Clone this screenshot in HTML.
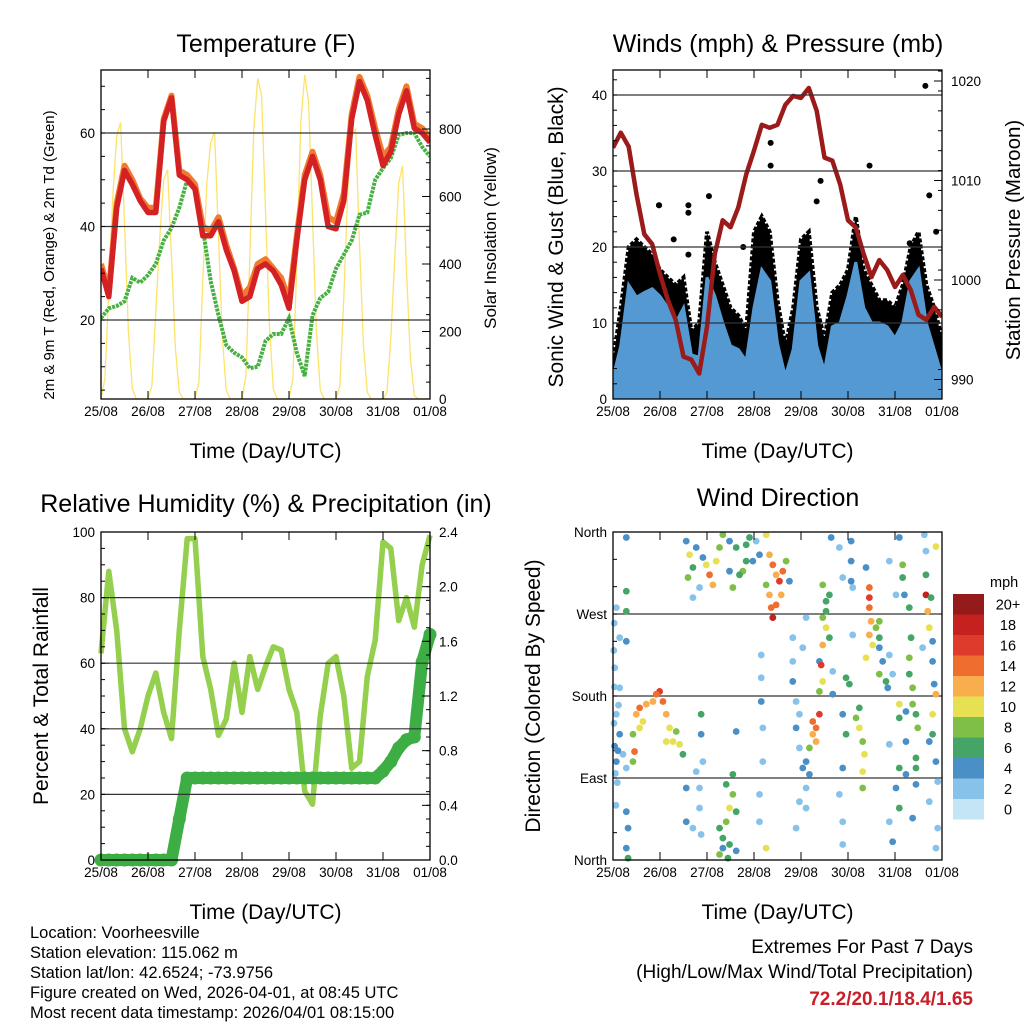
<!DOCTYPE html>
<html><head><meta charset="utf-8"><style>
body{margin:0;background:#fff;}
svg{display:block;font-family:"Liberation Sans",sans-serif;}
</style></head><body>
<svg id="root" width="1024" height="1024" viewBox="0 0 1024 1024" xmlns="http://www.w3.org/2000/svg">
<rect width="1024" height="1024" fill="#fff"/>
<g id="g"></g>
<g font-size="16.5" fill="#000">
<text x="30" y="938">Location: Voorheesville</text>
<text x="30" y="958">Station elevation: 115.062 m</text>
<text x="30" y="978">Station lat/lon: 42.6524; -73.9756</text>
<text x="30" y="998">Figure created on Wed, 2026-04-01, at 08:45 UTC</text>
<text x="30" y="1018">Most recent data timestamp: 2026/04/01 08:15:00</text>
</g>
<g text-anchor="end">
<text x="973" y="953" font-size="19">Extremes For Past 7 Days</text>
<text x="973" y="978" font-size="19">(High/Low/Max Wind/Total Precipitation)</text>
<text x="973" y="1005" font-size="19" font-weight="bold" fill="#c8202a">72.2/20.1/18.4/1.65</text>
</g>
</svg>
<script>
// ---------- data (4-hour steps from 25/08 00UTC) ----------
const dayLabels=["25/08","26/08","27/08","28/08","29/08","30/08","31/08","01/08"];
const tempRed=[31,25,44,52,49,45.5,43,43,62.5,67.5,51,50,48,38,38,41,35,30.5,24,25,31,32,30.5,27.5,22.5,37,50,55,50,40,39.5,45.5,63,71,67,59.5,53,56,64,69,61,60,58];
const tempOrange=[32,26,45,53,50,46,44,44,63,68,52,51,49,40,39,42,36,31,25,27,32,33,31,29,24,38,51,56,51,42,41,47,64,72,68,61,55,57,65,70,62,61,59];
const dewGreen=[20.4,22.5,23,24,29,28,29.6,32,37,39.7,44,50,48,39.7,28.3,21,14.6,13,12,9.7,10,15.5,17,17,20.4,13,8,21,24.7,26,31,34,37,42.5,43,50,52.5,54.6,59.6,60,60,57,55];
// solar insolation, 2-hour steps
const solar=[0,60,320,600,780,820,520,200,30,0,0,0,
 0,40,260,480,650,680,420,150,20,0,0,0,
 0,50,350,640,760,790,480,180,25,0,0,0,
 0,70,420,800,950,900,560,220,30,0,0,0,
 0,60,400,820,960,880,540,200,25,0,0,0,
 0,40,300,620,780,800,460,160,20,0,0,0,
 0,20,180,420,640,690,380,120,10,0,0,0,0];
const windSust=[2.8,7,15,13.4,14,14.5,13.5,12,10,12,5.8,5.5,16,13.5,10,7,6.5,5,12,17,15.5,7.3,3,6.5,15.5,16.5,7,3.7,9.5,10,13.5,18,12,10,10,9.5,8,10,15.5,17,10,6.5,3];
const windGust=[5,12,20,21,20,19,17,16,15,16,9,10,22,18,15,12,11,9,22,24,22,13,7,12,21,22,12,8,14,15,17,24,17,15,13,13,12,15,20,22,15,12,8];
const gustHours=[23.5,38.5,49,80.5,80.5,106,104,131,159.5,161.5,23.5,38.5,31,66.5,38.5,165,151.5];
const gustVals=[25.5,25.5,26.7,33.7,30.7,28.7,26,30.7,41.2,26.8,25.5,24.5,21,20,19,22,20.5];
const pressure=[1013.3,1014.8,1013.4,1008.6,1004.6,1003.6,1000.6,998,996,992.3,992,990.6,995.3,1002.6,1006,1005.3,1007.3,1010.6,1013,1015.6,1015.3,1015.6,1017.6,1018.5,1018.3,1019.3,1017,1012.3,1012,1009.6,1006,1005.3,1002.6,1000.3,1002,1001,999.3,1000.5,999,996.5,996,997.3,996.3];
const rh=[63,88,70,40,33,40,50,57,45,37,70,98,98,62,52,38,43,60,45,62,52,59,65,64,52,45,21,17,44,60,62,50,28,30,56,67,97,95,73,80,71,90,99];
const precip=[0,0,0,0,0,0,0,0,0,0,0.3,0.6,0.6,0.6,0.6,0.6,0.6,0.6,0.6,0.6,0.6,0.6,0.6,0.6,0.6,0.6,0.6,0.6,0.6,0.6,0.6,0.6,0.6,0.6,0.6,0.6,0.65,0.72,0.82,0.88,0.9,1.45,1.65];
// wind direction observations: [hour, degrees, speed mph]
const dirObs=[[1.7,160,2],[3.4,138,4],[5.1,116,2],[1.7,108,4],[6.8,101,2],[3.4,189,2],[0.9,211,2],[3.4,244,2],[6.8,240,4],[1.7,277,2],
[0.5,150,2],[0.8,125,4],[1.2,95,2],[0.4,230,2],[0.6,260,2],[2.5,120,4],[2.2,85,2],[0.7,190,2],[1.5,60,2],[2.8,170,2],
[10.2,138,8],[11.9,160,12],[13.6,167,14],[15.3,152,10],[17,171,12],[20.4,174,12],[23.8,185,16],[25.5,174,14],[27.2,160,12],[28.9,145,10],[30.6,130,10],[32.3,141,8],[34,127,10],[35.7,116,6],[11,119,14],[10.2,108,8],[22.1,182,14],[27.2,130,10],[13.6,145,10],
[6.8,53,4],[7.7,35,4],[6.8,13,4],[7.7,2,6],[6.8,354,4],[6.8,295,6],[6.8,273,6],
[37.4,350,4],[39.1,335,10],[38.3,310,8],[40.8,321,6],[42.5,343,4],[44.2,299,2],[47.6,324,10],[49.3,313,14],[51,302,12],[52.7,328,10],[54.4,343,8],[56.1,357,8],[45.9,332,4],[40.8,288,2],
[59.5,350,4],[62.9,343,6],[68,346,6],[69.7,354,6],[66.3,317,8],[71.4,328,4],[74.8,335,4],[64.6,313,6],[61.2,299,8],[73.1,350,2],[68,328,6],[59.5,317,4],
[78.2,357,10],[79.9,335,12],[81.6,324,14],[83.3,313,12],[85,306,16],[86.7,317,14],[79.9,291,12],[83.3,280,14],[81.6,266,18],[78.2,302,8],[88.4,328,8],[90.1,306,4],[85.9,291,12],[80.8,277,14],
[54.4,6,8],[56.1,24,6],[57.8,42,8],[59.5,57,10],[61.2,72,8],[62.9,53,6],[56.1,13,4],[59.5,17,6],[57.8,83,6],[61.2,94,6],[54.4,35,6],[58.7,2,6],[62.9,10,4],
[42.5,97,2],[44.2,79,2],[44.2,57,2],[40.8,35,2],[45,160,6],[45,138,4],[45.9,108,2],[45,28,2],[37.4,79,4],[37.4,42,4],
[75.7,225,2],[75.7,200,2],[75.7,174,4],[76.5,108,2],[74.8,72,2],[74.8,42,2],[78.2,13,10],[76.5,145,2],[62.9,141,4],
[91.8,244,2],[91.8,218,2],[91.8,196,4],[93.5,174,2],[93.5,145,4],[95.2,123,2],[96.9,101,4],[98.6,79,2],[98.6,57,2],[98.6,108,4],[95.2,160,2],[96.9,233,2],[93.5,35,2],[98.6,266,2],[100.3,94,4],[95.2,64,2],
[102,152,14],[103.7,145,14],[105.4,160,16],[102,138,12],[103.7,130,12],[100.3,123,8],
[107.1,302,8],[108.8,284,6],[107.1,266,8],[108.8,255,10],[107.1,236,12],[110.5,244,6],[105.4,218,4],[106.3,214,16],[107.1,196,10],[105.4,185,8],[108.8,273,6],[110.5,291,6],
[111.4,354,4],[115.6,343,2],[117.3,310,2],[121.6,350,4],[121.6,328,4],[121.6,306,4],[122.4,299,2],[112.2,207,2],[119,200,6],[120.7,193,6],[117.3,160,4],[119,138,6],[117.3,101,4],[115.6,72,2],[117.3,42,2],[117.3,17,2],[112.2,182,4],[122.4,247,2],
[124.1,156,8],[125.8,145,10],[127.5,130,8],[128.4,116,10],[127.5,97,10],[127.5,79,8],[125.8,167,6],
[130.9,299,14],[130.9,288,16],[130.9,277,14],[131.8,262,12],[130.9,247,12],[132.6,236,10],[129.2,222,10],[134.3,255,8],[136,262,8],[136,233,4],[137.7,218,4],[136,204,8],[139.4,196,6],[140.3,189,4],[141.1,225,2],[129.2,321,4],[136,244,6],
[146.2,354,4],[147.9,324,8],[147.9,310,6],[148.8,291,4],[144.5,291,2],[151.3,277,6],[152.2,244,6],[151.3,222,8],[151.3,204,6],[153,189,8],[142.8,204,2],[141.1,328,2],
[146.2,171,10],[146.2,156,6],[149.6,163,4],[149.6,130,4],[154.7,160,6],[155.6,145,8],[154.7,112,6],[154.7,101,6],[146.2,101,6],[149.6,94,4],[141.1,127,2],[144.5,79,4],[146.2,57,6],[141.1,42,2],[142.8,20,4],[153,46,4],[154.7,83,4],[153,171,8],
[159,357,2],[164.9,344,10],[159.8,291,18],[160.7,273,12],[161.5,255,10],[159.8,313,6],[162.4,288,6],[163.2,218,4],[164,193,4],[164.9,182,12],[163.2,160,10],[163.2,138,6],[164.9,108,4],[161.5,130,4],[165.8,86,2],[161.5,64,2],[165.8,35,2],[164.9,13,2],[159.8,339,2],[158.1,233,2],[163.2,240,4]];
const speedLabels=["0","2","4","6","8","10","12","14","16","18","20+"];
const speedColors=["#c4e5f6","#86c2ea","#4a8fc6","#45a566","#7fbf48","#e7e052","#f8ae4c","#ef6d2e","#df3b2c","#c4211f","#951a1a"];

// ---------- drawing ----------
const NS="http://www.w3.org/2000/svg";
const G=document.getElementById('g');
function el(tag,attrs,parent){const e=document.createElementNS(NS,tag);for(const k in attrs)e.setAttribute(k,attrs[k]);(parent||G).appendChild(e);return e;}
function txt(s,attrs,parent){const e=el('text',attrs,parent);e.textContent=s;return e;}

function panel(name){
  const g=el('g',{});
  
  
  return g;
}
function frame(g,x0,y0,w,h){
  const r=el('rect',{x:x0,y:y0,width:w,height:h,fill:'none',stroke:'#000','stroke-width':1.3},g);
  
  
}
function xAxis(g,x0,y0,w,h){
  const ax=el('g',{},g);
  
  
  for(let i=0;i<dayLabels.length;i++){
    const x=x0+i*w/7;
    el('line',{x1:x,x2:x,y1:y0+h,y2:y0+h-8,stroke:'#000','stroke-width':1},ax);
    el('line',{x1:x,x2:x,y1:y0,y2:y0+8,stroke:'#000','stroke-width':1},ax);
    const t=txt(dayLabels[i],{x:x,y:y0+h+17,'font-size':13.5,'text-anchor':'middle'},ax);
    
    
  }
  const lab=txt('Time (Day/UTC)',{x:x0+w/2,y:y0+h+59,'font-size':21,'text-anchor':'middle'},ax);
  
  
}
function yTicks(g,side,x0,y0,w,h,vals,fy,labels,grid,minorVals){
  const ax=el('g',{},g);
  
  
  vals.forEach((v,i)=>{
    const y=fy(v);
    if(side==='l'){
      el('line',{x1:x0,x2:x0+8,y1:y,y2:y,stroke:'#000'},ax);
      if(grid&&y>y0+2&&y<y0+h-2){const gl=el('line',{x1:x0,x2:x0+w,y1:y,y2:y,stroke:'#333','stroke-width':1.2},ax);
        }
      const t=txt(labels[i],{x:x0-6,y:y+5,'font-size':13.5,'text-anchor':'end'},ax);
      
    } else {
      el('line',{x1:x0+w,x2:x0+w-8,y1:y,y2:y,stroke:'#000'},ax);
      const t=txt(labels[i],{x:x0+w+9,y:y+5,'font-size':13.5,'text-anchor':'start'},ax);
      
    }
  });
  (minorVals||[]).forEach(v=>{const y=fy(v);
    if(side==='l')el('line',{x1:x0,x2:x0+4,y1:y,y2:y,stroke:'#000'},ax);
    else el('line',{x1:x0+w,x2:x0+w-4,y1:y,y2:y,stroke:'#000'},ax);});
}
function title(g,s,x,y,name){const t=txt(s,{x:x,y:y,'font-size':25,'text-anchor':'middle'},g);}
function vtitle(g,s,x,y,fs,name){const t=txt(s,{x:0,y:0,'font-size':fs,'text-anchor':'middle',transform:`translate(${x},${y}) rotate(-90)`},g);}
function path(pts){return pts.map((p,i)=>(i?'L':'M')+p[0].toFixed(1)+','+p[1].toFixed(1)).join('');}
function range(a,b,s){const r=[];for(let v=a;v<=b+1e-9;v+=s)r.push(+v.toFixed(3));return r;}

// ===== Panel 1: Temperature =====
(function(){
  const x0=101,y0=70,w=329,h=329;
  const g=panel('temperature-panel');
  const fx=t=>x0+t/168*w;
  const fy=v=>320-(v-20)*93.5/20;
  const fs=v=>399-v*67.5/200;
  title(g,'Temperature (F)',266,52,'temperature-title');
  const clip=el('clipPath',{id:'c1'},g);el('rect',{x:x0,y:y0,width:w,height:h},clip);
  const d=el('g',{'clip-path':'url(#c1)'},g);
  yTicks(g,'l',x0,y0,w,h,[20,40,60],fy,['20','40','60'],true,range(5,70,5));
  const sp=el('path',{d:path(solar.map((v,i)=>[fx(i*2),fs(v)])),fill:'none',stroke:'#fde36a','stroke-width':1.3},d);
  
  const dg=el('path',{d:path(dewGreen.map((v,i)=>[fx(i*4),fy(v)])),fill:'none',stroke:'#47b042','stroke-width':4,'stroke-dasharray':'3 1'},d);
  
  const og=el('path',{d:path(tempOrange.map((v,i)=>[fx(i*4),fy(v)])),fill:'none',stroke:'#f07a30','stroke-width':6,'stroke-linejoin':'round'},d);
  
  const rd=el('path',{d:path(tempRed.map((v,i)=>[fx(i*4),fy(v)])),fill:'none',stroke:'#d42224','stroke-width':5.5,'stroke-linejoin':'round'},d);
  
  yTicks(g,'r',x0,y0,w,h,[0,200,400,600,800],fs,['0','200','400','600','800'],false,range(50,950,50));
  frame(g,x0,y0,w,h);xAxis(g,x0,y0,w,h);
  vtitle(g,'2m & 9m T (Red, Orange) & 2m Td (Green)',54,255,15,'y-axis-title-left');
  vtitle(g,'Solar Insolation (Yellow)',496,238,17,'y-axis-title-right');
})();

// ===== Panel 2: Winds & Pressure =====
(function(){
  const x0=613,y0=70,w=329,h=329;
  const g=panel('winds-panel');
  const fx=t=>x0+t/168*w;
  const fy=v=>399-v*7.6;
  const fp=p=>81+(1020-p)*9.95;
  title(g,'Winds (mph) & Pressure (mb)',778,52,'winds-title');
  const clip=el('clipPath',{id:'c2'},g);el('rect',{x:x0,y:y0,width:w,height:h},clip);
  const d=el('g',{'clip-path':'url(#c2)'},g);
  yTicks(g,'l',x0,y0,w,h,[0,10,20,30,40],fy,['0','10','20','30','40'],true,range(2,42,2));
  const gp=[[fx(0),fy(0)]].concat(windGust.map((v,i)=>[fx(i*4),fy(v)])).concat([[fx(168),fy(0)]]);
  const ga=el('path',{d:path(gp)+'Z',fill:'#000',stroke:'#000','stroke-width':4,'stroke-dasharray':'4 2'},d);
  
  gustHours.forEach((t,i)=>{const c=el('circle',{cx:fx(t),cy:fy(gustVals[i]),r:3,fill:'#000'},d);
    });
  const bp=[[fx(0),fy(0)]].concat(windSust.map((v,i)=>[fx(i*4),fy(v)])).concat([[fx(168),fy(0)]]);
  const ba=el('path',{d:path(bp)+'Z',fill:'#5599d2',stroke:'#5599d2','stroke-width':3},d);
  
  const pl=el('path',{d:path(pressure.map((v,i)=>[fx(i*4),fp(v)])),fill:'none',stroke:'#9b1a1a','stroke-width':4.5,'stroke-linejoin':'round'},d);
  
  yTicks(g,'r',x0,y0,w,h,[990,1000,1010,1020],fp,['990','1000','1010','1020'],false,range(989,1021,2));
  frame(g,x0,y0,w,h);xAxis(g,x0,y0,w,h);
  vtitle(g,'Sonic Wind & Gust (Blue, Black)',563,237,21,'y-axis-title-left');
  vtitle(g,'Station Pressure (Maroon)',1020,240,20.5,'y-axis-title-right');
})();

// ===== Panel 3: RH & Precip =====
(function(){
  const x0=101,y0=532,w=329,h=328;
  const g=panel('humidity-panel');
  const fx=t=>x0+t/168*w;
  const fy=v=>860-v*3.28;
  const fr=p=>860-p/2.4*328;
  title(g,'Relative Humidity (%) & Precipitation (in)',266,512,'humidity-title');
  const clip=el('clipPath',{id:'c3'},g);el('rect',{x:x0-8,y:y0-8,width:w+16,height:h+16},clip);
  const d=el('g',{'clip-path':'url(#c3)'},g);
  yTicks(g,'l',x0,y0,w,h,[0,20,40,60,80,100],fy,['0','20','40','60','80','100'],true,range(5,95,5));
  const rl=el('path',{d:path(rh.map((v,i)=>[fx(i*4),fy(v)])),fill:'none',stroke:'#94cf4e','stroke-width':5.5,'stroke-linejoin':'round'},d);
  
  const pl=el('path',{d:path(precip.map((v,i)=>[fx(i*4),fr(v)])),fill:'none',stroke:'#3dae43','stroke-width':12,'stroke-linecap':'round','stroke-linejoin':'round'},d);
  
  precip.forEach((v,i)=>{const c=el('circle',{cx:fx(i*4),cy:fr(v),r:6.5,fill:'#3dae43'},d);
    });
  yTicks(g,'r',x0,y0,w,h,[0,0.4,0.8,1.2,1.6,2.0,2.4],fr,['0.0','0.4','0.8','1.2','1.6','2.0','2.4'],false,range(0.1,2.3,0.1));
  frame(g,x0,y0,w,h);xAxis(g,x0,y0,w,h);
  vtitle(g,'Percent & Total Rainfall',48,696,21,'y-axis-title-left');
})();

// ===== Panel 4: Wind Direction =====
(function(){
  const x0=613,y0=532,w=329,h=328;
  const g=panel('wind-direction-panel');
  const fx=t=>x0+t/168*w;
  const fy=v=>860-v/360*328;
  title(g,'Wind Direction',778,506,'wind-direction-title');
  yTicks(g,'l',x0,y0,w,h,[0,90,180,270,360],fy,['North','East','South','West','North'],true,range(30,330,30));
  dirObs.forEach(o=>{
    const bin=Math.min(10,Math.max(0,Math.round(o[2]/2)));
    const c=el('circle',{cx:fx(o[0]),cy:fy(o[1]),r:3.4,fill:speedColors[bin]},g);
    
    
  });
  frame(g,x0,y0,w,h);xAxis(g,x0,y0,w,h);
  vtitle(g,'Direction (Colored By Speed)',540,696,21,'y-axis-title-left');
  const lg=el('g',{},g);
  
  
  txt('mph',{x:990,y:587,'font-size':14.5},lg);
  speedColors.forEach((c,i)=>{
    const yy=799-i*20.5;
    el('rect',{x:953,y:yy,width:31,height:20.5,fill:c},lg);
    const t=txt(speedLabels[i],{x:1008,y:yy+15.5,'font-size':14.5,'text-anchor':'middle'},lg);
    
  });
})();
</script>
</body></html>
